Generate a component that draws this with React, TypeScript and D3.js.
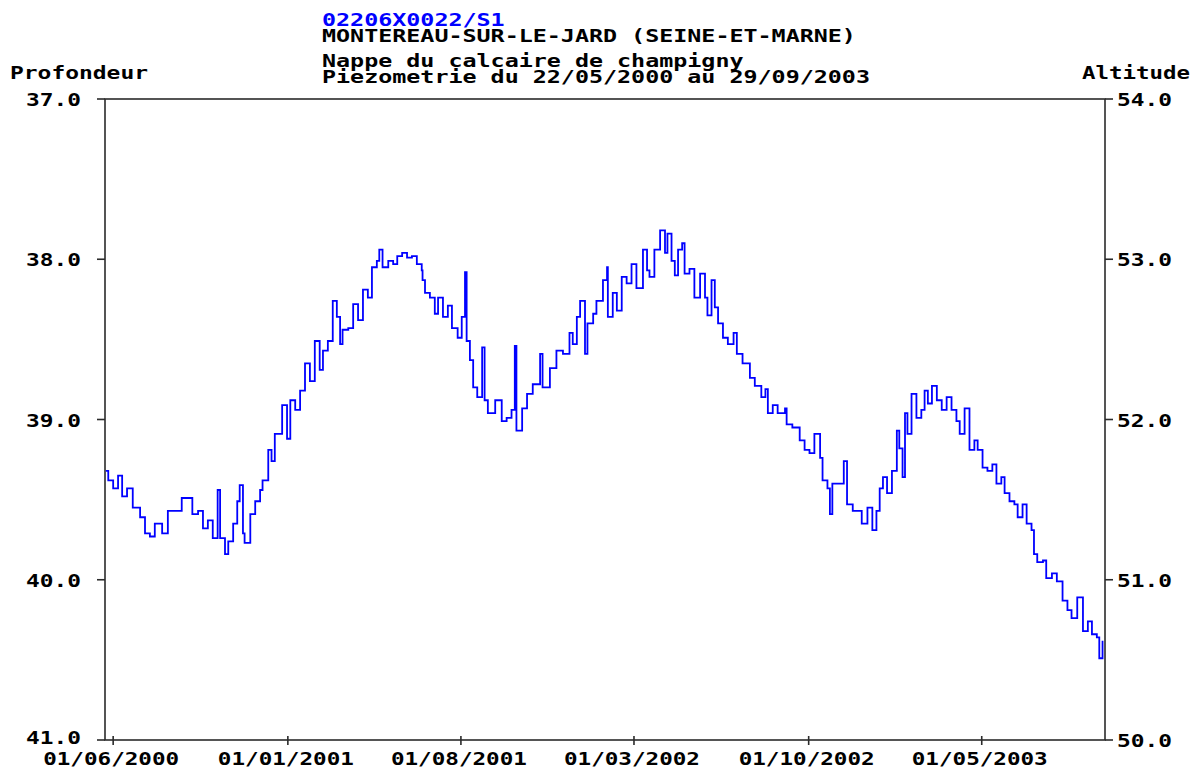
import * as d3 from 'd3';

// station header
const STATION = '02206X0022/S1';
const TITLE_LINES = [
  'MONTEREAU-SUR-LE-JARD (SEINE-ET-MARNE)',
  'Nappe du calcaire de champigny',
  'Piezometrie du 22/05/2000 au 29/09/2003',
];
const PERIOD = ['22/05/2000', '29/09/2003'];
const DATE_TICKS = ['01/06/2000', '01/01/2001', '01/08/2001', '01/03/2002', '01/10/2002', '01/05/2003'];
const DEPTH_TICKS = [37, 38, 39, 40, 41];
const ALTITUDE_TICKS = [54, 53, 52, 51, 50];

// days after 22/05/2000, depth below ground (m)
const DAYS = [
  1, 4, 10, 16, 21, 27, 34, 43, 49, 55, 61, 70, 77, 83, 94, 102, 107, 114, 120, 126,
  132, 138, 141, 147, 151, 157, 162, 165, 169, 171, 178, 184, 190, 193, 200, 204, 208, 217, 223, 227,
  233, 239, 245, 251, 257, 263, 267, 273, 279, 284, 288, 291, 298, 304, 310, 316, 322, 327, 333, 336,
  340, 347, 353, 358, 364, 370, 376, 382, 388, 389, 392, 398, 404, 408, 414, 420, 425, 432, 437, 441,
  443, 447, 451, 456, 462, 465, 469, 478, 486, 492, 498, 502, 504, 511, 517, 524, 533, 536, 545, 553,
  561, 569, 573, 578, 582, 588, 591, 598, 602, 610, 615, 616, 622, 627, 633, 639, 645, 651, 659, 664,
  667, 673, 680, 686, 689, 694, 698, 702, 707, 710, 716, 722, 729, 735, 738, 743, 747, 751, 757, 763,
  770, 774, 781, 790, 796, 804, 809, 812, 818, 824, 833, 835, 842, 851, 857, 863, 869, 876, 879, 885,
  888, 891, 900, 905, 909, 916, 921, 927, 934, 940, 945, 949, 953, 958, 964, 970, 973, 977, 980, 983,
  988, 994, 1000, 1004, 1008, 1013, 1019, 1025, 1031, 1037, 1043, 1047, 1053, 1059, 1065, 1069, 1075, 1081, 1087, 1092,
  1098, 1102, 1108, 1114, 1118, 1124, 1129, 1135, 1138, 1142, 1149, 1153, 1160, 1166, 1173, 1179, 1184, 1191, 1198, 1204,
  1209, 1215, 1218, 1222,
];
const DEPTHS = [
  39.32, 39.38, 39.43, 39.35, 39.48, 39.43, 39.55, 39.61, 39.71, 39.73, 39.65, 39.71, 39.57, 39.57, 39.49, 39.49, 39.59, 39.57, 39.68, 39.63,
  39.74, 39.44, 39.74, 39.84, 39.76, 39.65, 39.51, 39.41, 39.71, 39.77, 39.59, 39.51, 39.44, 39.38, 39.19, 39.26, 39.09, 38.91, 39.12, 38.88,
  38.94, 38.82, 38.65, 38.76, 38.51, 38.69, 38.57, 38.51, 38.26, 38.36, 38.53, 38.44, 38.43, 38.28, 38.38, 38.19, 38.24, 38.05, 38.01, 37.94,
  38.05, 38.01, 38.03, 37.98, 37.96, 37.99, 37.98, 38.03, 38.07, 38.13, 38.21, 38.24, 38.34, 38.24, 38.36, 38.29, 38.43, 38.49, 38.36, 38.08,
  38.51, 38.63, 38.8, 38.86, 38.55, 38.88, 38.96, 38.88, 39.01, 38.99, 38.94, 38.54, 39.07, 38.93, 38.84, 38.78, 38.59, 38.8, 38.68, 38.57,
  38.59, 38.46, 38.53, 38.36, 38.26, 38.59, 38.4, 38.34, 38.26, 38.13, 38.05, 38.36, 38.21, 38.32, 38.11, 38.15, 38.03, 38.18, 37.94, 38.07,
  38.11, 37.94, 37.82, 37.96, 37.84, 38.01, 38.1, 37.94, 37.9, 38.09, 38.06, 38.24, 38.09, 38.24, 38.35, 38.13, 38.3, 38.4, 38.49, 38.53,
  38.46, 38.59, 38.65, 38.74, 38.79, 38.86, 38.81, 38.96, 38.91, 38.96, 38.93, 39.03, 39.05, 39.13, 39.19, 39.21, 39.09, 39.24, 39.38, 39.43,
  39.59, 39.4, 39.4, 39.26, 39.53, 39.57, 39.57, 39.65, 39.55, 39.69, 39.57, 39.43, 39.36, 39.46, 39.32, 39.07, 39.18, 39.36, 38.96, 39.09,
  38.84, 38.99, 38.94, 38.82, 38.9, 38.79, 38.88, 38.94, 38.86, 38.94, 39.01, 39.09, 38.93, 39.19, 39.13, 39.19, 39.3, 39.32, 39.28, 39.4,
  39.36, 39.46, 39.51, 39.53, 39.61, 39.53, 39.65, 39.69, 39.84, 39.89, 39.88, 39.99, 39.96, 40.01, 40.13, 40.19, 40.24, 40.11, 40.32, 40.26,
  40.34, 40.36, 40.49, 40.38,
];

const W = 1199;
const H = 776;
const PLOT = { left: 105, right: 1105, top: 99, bottom: 740 };
const FONT = "'DejaVu Sans Mono', monospace";
const CHAR_W = 13.9;

const parseDate = d3.timeParse('%d/%m/%Y');

function Label({ x, y, text, anchor = 'start', fill = '#000', charW = CHAR_W }: any) {
  return (
    <text
      x={x}
      y={y}
      fill={fill}
      textAnchor={anchor}
      fontFamily={FONT}
      fontWeight="bold"
      fontSize={17}
      textLength={text.length * charW}
      lengthAdjust="spacingAndGlyphs"
    >
      {text}
    </text>
  );
}

export default function App() {
  const start = parseDate(PERIOD[0])!;
  const end = parseDate(PERIOD[1])!;

  const x = d3.scaleTime().domain([start, end]).range([PLOT.left, PLOT.right]);
  const yDepth = d3.scaleLinear().domain([37, 41]).range([PLOT.top, PLOT.bottom]);
  const yAlt = d3.scaleLinear().domain([54, 50]).range([PLOT.top, PLOT.bottom]);

  const points = DAYS.map((d, i) => ({ date: d3.timeDay.offset(start, d), depth: DEPTHS[i] }));
  const line = d3
    .line<{ date: Date; depth: number }>()
    .x((p) => x(p.date))
    .y((p) => yDepth(p.depth))
    .curve(d3.curveStepAfter);

  const axisColor = '#2b2b2b';

  return (
    <div style={{ position: 'absolute', left: 0, top: 0, background: '#fff' }}>
      <svg width={W} height={H} style={{ display: 'block' }}>
        <rect width={W} height={H} fill="#fff" />

        {/* header */}
        <Label x={322} y={26} text={STATION} fill="#0000ff" charW={14.05} />
        <Label x={322} y={42} text={TITLE_LINES[0]} charW={14.05} />
        <Label x={322} y={67} text={TITLE_LINES[1]} charW={14.05} />
        <Label x={322} y={83} text={TITLE_LINES[2]} charW={14.05} />

        <Label x={10} y={79} text="Profondeur" charW={13.8} />
        <Label x={1082} y={79} text="Altitude" charW={13.5} />

        {/* frame */}
        <rect
          x={PLOT.left}
          y={PLOT.top}
          width={PLOT.right - PLOT.left}
          height={PLOT.bottom - PLOT.top}
          fill="none"
          stroke={axisColor}
          strokeWidth={1.6}
        />

        {/* left axis: depth */}
        {DEPTH_TICKS.map((t) => (
          <g key={`d${t}`}>
            <line x1={PLOT.left - 8} x2={PLOT.left} y1={yDepth(t)} y2={yDepth(t)} stroke={axisColor} strokeWidth={1.6} />
            <Label x={81} y={yDepth(t) + (t === 41 ? 4 : 7)} text={t.toFixed(1)} anchor="end" charW={13.75} />
          </g>
        ))}

        {/* right axis: altitude */}
        {ALTITUDE_TICKS.map((t) => (
          <g key={`a${t}`}>
            <line x1={PLOT.right} x2={PLOT.right + 8} y1={yAlt(t)} y2={yAlt(t)} stroke={axisColor} strokeWidth={1.6} />
            <Label x={1117} y={yAlt(t) + 7} text={t.toFixed(1)} charW={13.75} />
          </g>
        ))}

        {/* bottom axis: dates */}
        {DATE_TICKS.map((s) => {
          const tx = x(parseDate(s)!);
          return (
            <g key={s}>
              <line x1={tx} x2={tx} y1={PLOT.bottom - 4} y2={PLOT.bottom + 5} stroke={axisColor} strokeWidth={1.6} />
              <Label x={tx - 2} y={765} text={s} anchor="middle" charW={13.6} />
            </g>
          );
        })}

        <path d={line(points) ?? ''} fill="none" stroke="#0000ff" strokeWidth={1.8} />
      </svg>
    </div>
  );
}
